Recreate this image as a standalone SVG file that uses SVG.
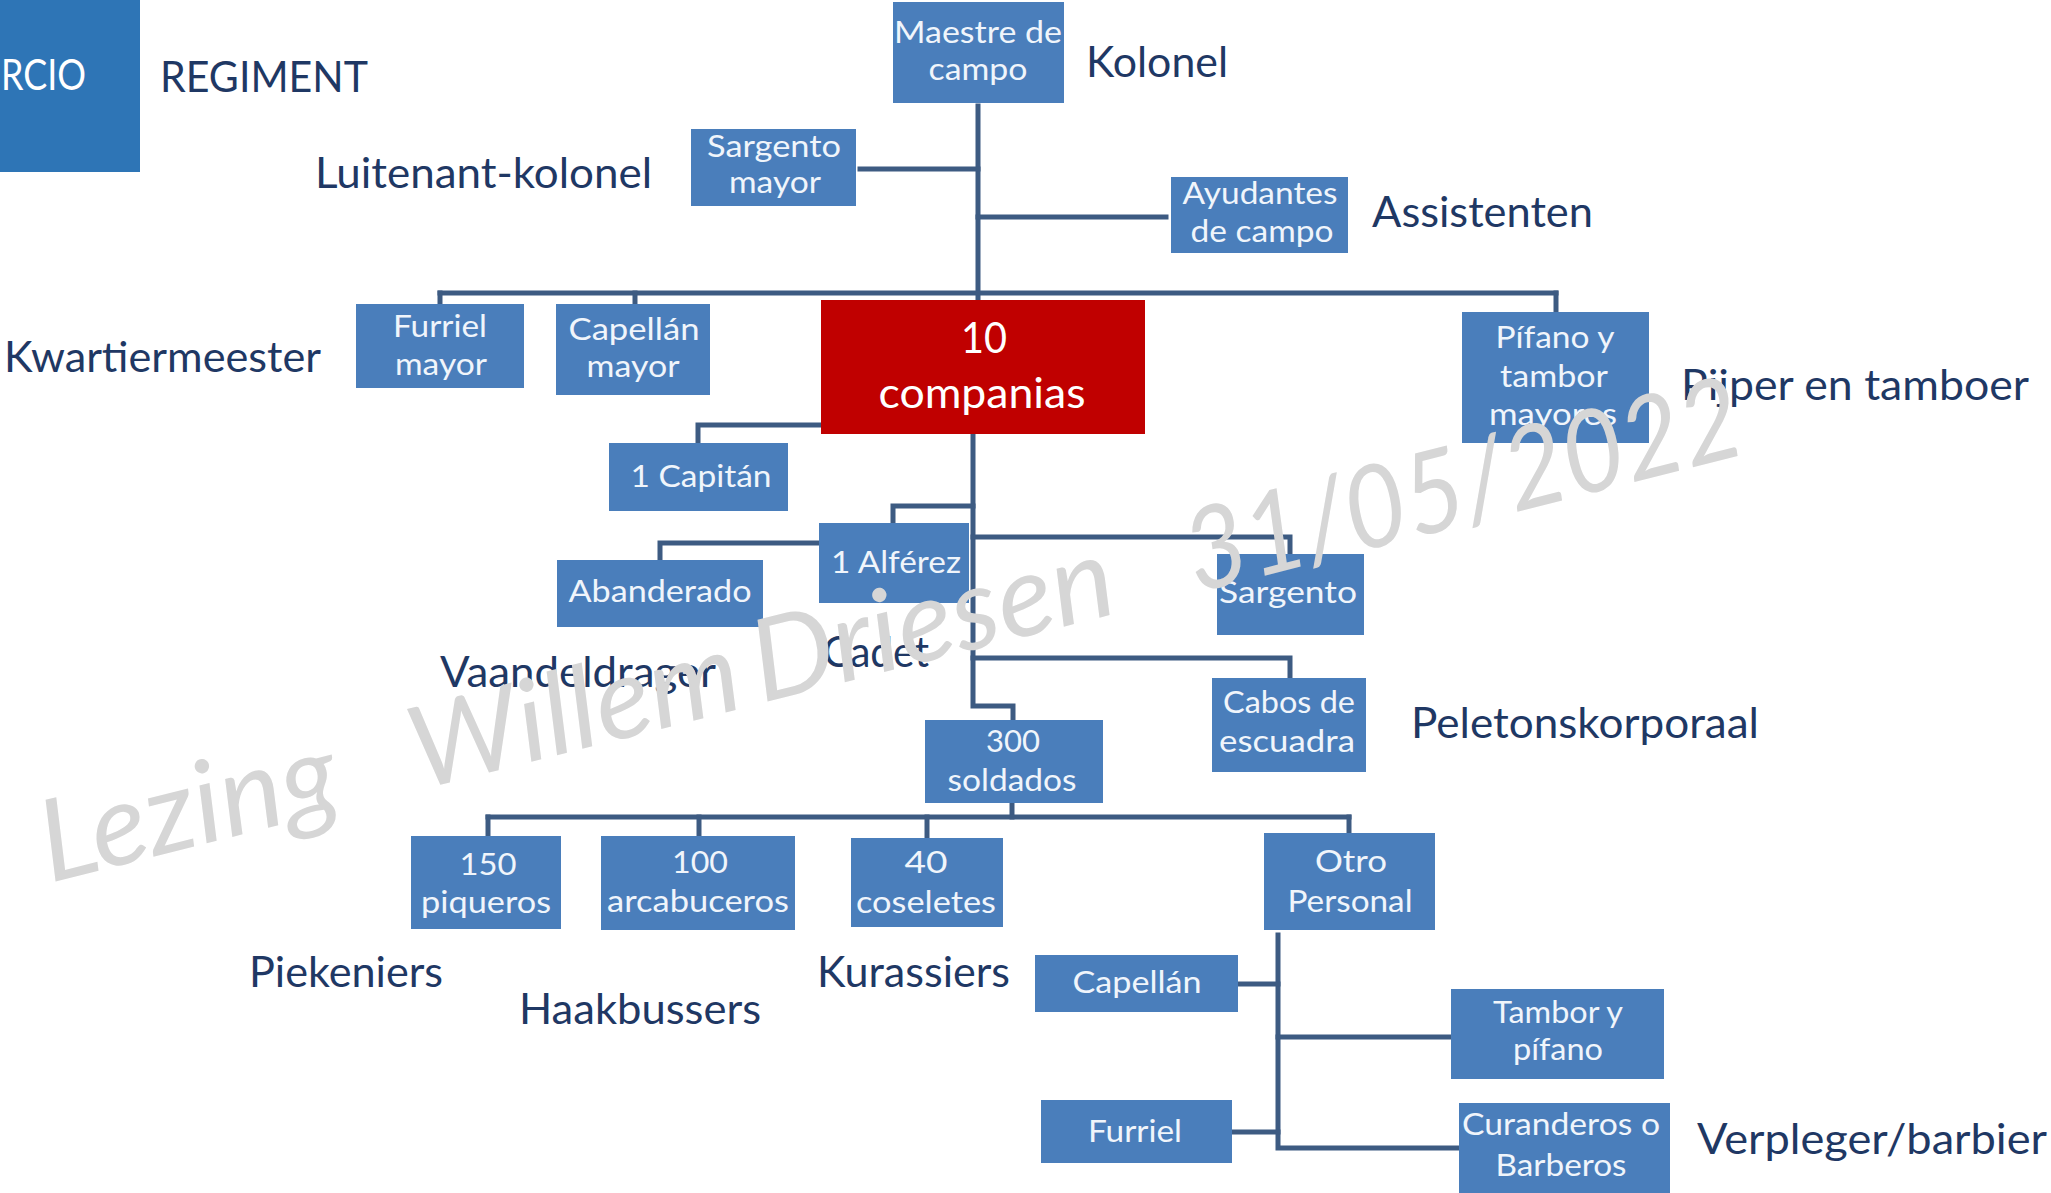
<svg xmlns="http://www.w3.org/2000/svg" width="2051" height="1193" viewBox="0 0 2051 1193">
<style>
.box{fill:#4a7ebb}
.bt{font-family:Lato,"Open Sans","Liberation Sans",sans-serif;font-size:30px;fill:#f0f5fb;text-anchor:middle}
.lbl{font-family:Lato,"Open Sans","Liberation Sans",sans-serif;font-size:42px;fill:#1f3864}
.conn{stroke:#3d5b82;stroke-width:5;fill:none;stroke-linecap:square}
.wm{font-family:Lato,"Open Sans","Liberation Sans",sans-serif;font-size:114px;font-style:italic;fill:#d6d6d6}
</style>
<rect width="2051" height="1193" fill="#ffffff"/>

<g id="tercio">
<rect x="0" y="0" width="140" height="172" fill="#2e75b6"/>
<text x="1" y="90" style="font-family:Lato,'Open Sans',sans-serif;font-size:42px;fill:#ffffff" textLength="85" lengthAdjust="spacingAndGlyphs">RCIO</text>
</g>

<g id="connectors">
<path class="conn" d="M978,106 V298"/>
<path class="conn" d="M860,169 H978"/>
<path class="conn" d="M978,217 H1166"/>
<path class="conn" d="M440,293 H1556"/>
<path class="conn" d="M440,293 V303"/>
<path class="conn" d="M635,293 V303"/>
<path class="conn" d="M1556,293 V311"/>
<path class="conn" d="M973,434 V706 H1013 V720"/>
<path class="conn" d="M820,425 H698 V443"/>
<path class="conn" d="M973,506 H893 V523"/>
<path class="conn" d="M819,543 H660 V560"/>
<path class="conn" d="M973,537 H1290 V554"/>
<path class="conn" d="M973,658 H1290 V678"/>
<path class="conn" d="M1012,803 V817"/>
<path class="conn" d="M488,817 H1349"/>
<path class="conn" d="M488,817 V836"/>
<path class="conn" d="M699,817 V836"/>
<path class="conn" d="M927,817 V838"/>
<path class="conn" d="M1349,817 V833"/>
<path class="conn" d="M1278,935 V1148 H1459"/>
<path class="conn" d="M1238,984 H1278"/>
<path class="conn" d="M1278,1037 H1451"/>
<path class="conn" d="M1232,1132 H1278"/>
</g>

<g id="maestre">
<rect class="box" x="893" y="2" width="171" height="101"/>
<text class="bt" x="978" y="43" textLength="168" lengthAdjust="spacingAndGlyphs">Maestre de</text>
<text class="bt" x="978" y="80" textLength="99" lengthAdjust="spacingAndGlyphs">campo</text>
</g>
<g id="sargento-mayor">
<rect class="box" x="691" y="129" width="165" height="77"/>
<text class="bt" x="774" y="157" textLength="134" lengthAdjust="spacingAndGlyphs">Sargento</text>
<text class="bt" x="775" y="193" textLength="92" lengthAdjust="spacingAndGlyphs">mayor</text>
</g>
<g id="ayudantes">
<rect class="box" x="1171" y="177" width="177" height="76"/>
<text class="bt" x="1260" y="204" textLength="155" lengthAdjust="spacingAndGlyphs">Ayudantes</text>
<text class="bt" x="1262" y="242" textLength="143" lengthAdjust="spacingAndGlyphs">de campo</text>
</g>
<g id="furriel-mayor">
<rect class="box" x="356" y="304" width="168" height="84"/>
<text class="bt" x="440" y="337" textLength="94" lengthAdjust="spacingAndGlyphs">Furriel</text>
<text class="bt" x="441" y="375" textLength="92" lengthAdjust="spacingAndGlyphs">mayor</text>
</g>
<g id="capellan-mayor">
<rect class="box" x="556" y="304" width="154" height="91"/>
<text class="bt" x="634" y="340" textLength="131" lengthAdjust="spacingAndGlyphs">Capellán</text>
<text class="bt" x="633" y="377" textLength="93" lengthAdjust="spacingAndGlyphs">mayor</text>
</g>
<g id="pifano-mayores">
<rect class="box" x="1462" y="312" width="187" height="131"/>
<text class="bt" x="1555" y="348" textLength="119" lengthAdjust="spacingAndGlyphs">Pífano y</text>
<text class="bt" x="1554" y="387" textLength="108" lengthAdjust="spacingAndGlyphs">tambor</text>
<text class="bt" x="1553" y="425" textLength="128" lengthAdjust="spacingAndGlyphs">mayores</text>
</g>
<g id="companias">
<rect x="821" y="300" width="324" height="134" fill="#c00000"/>
<text x="984" y="353" style="font-family:Lato,'Open Sans',sans-serif;font-size:42px;fill:#ffffff;text-anchor:middle" textLength="46" lengthAdjust="spacingAndGlyphs">10</text>
<text x="982" y="408" style="font-family:Lato,'Open Sans',sans-serif;font-size:42px;fill:#ffffff;text-anchor:middle" textLength="207" lengthAdjust="spacingAndGlyphs">companias</text>
</g>
<g id="capitan">
<rect class="box" x="609" y="443" width="179" height="68"/>
<text class="bt" x="701" y="487" textLength="141" lengthAdjust="spacingAndGlyphs">1 Capitán</text>
</g>
<g id="alferez">
<rect class="box" x="819" y="523" width="150" height="80"/>
<text class="bt" x="896" y="573" textLength="130" lengthAdjust="spacingAndGlyphs">1 Alférez</text>
</g>
<g id="abanderado">
<rect class="box" x="557" y="560" width="206" height="67"/>
<text class="bt" x="660" y="602" textLength="183" lengthAdjust="spacingAndGlyphs">Abanderado</text>
</g>
<g id="sargento">
<rect class="box" x="1217" y="554" width="147" height="81"/>
<text class="bt" x="1288" y="603" textLength="138" lengthAdjust="spacingAndGlyphs">Sargento</text>
</g>
<g id="cabos">
<rect class="box" x="1212" y="678" width="154" height="94"/>
<text class="bt" x="1289" y="713" textLength="132" lengthAdjust="spacingAndGlyphs">Cabos de</text>
<text class="bt" x="1287" y="752" textLength="136" lengthAdjust="spacingAndGlyphs">escuadra</text>
</g>
<g id="soldados">
<rect class="box" x="925" y="720" width="178" height="83"/>
<text class="bt" x="1013" y="752" textLength="54" lengthAdjust="spacingAndGlyphs">300</text>
<text class="bt" x="1012" y="791" textLength="129" lengthAdjust="spacingAndGlyphs">soldados</text>
</g>
<g id="piqueros">
<rect class="box" x="411" y="836" width="150" height="93"/>
<text class="bt" x="488" y="875" textLength="57" lengthAdjust="spacingAndGlyphs">150</text>
<text class="bt" x="486" y="913" textLength="130" lengthAdjust="spacingAndGlyphs">piqueros</text>
</g>
<g id="arcabuceros">
<rect class="box" x="601" y="836" width="194" height="94"/>
<text class="bt" x="700" y="873" textLength="56" lengthAdjust="spacingAndGlyphs">100</text>
<text class="bt" x="698" y="912" textLength="182" lengthAdjust="spacingAndGlyphs">arcabuceros</text>
</g>
<g id="coseletes">
<rect class="box" x="851" y="838" width="152" height="89"/>
<text class="bt" x="926" y="873" textLength="43" lengthAdjust="spacingAndGlyphs">40</text>
<text class="bt" x="926" y="913" textLength="140" lengthAdjust="spacingAndGlyphs">coseletes</text>
</g>
<g id="otro">
<rect class="box" x="1264" y="833" width="171" height="97"/>
<text class="bt" x="1351" y="872" textLength="72" lengthAdjust="spacingAndGlyphs">Otro</text>
<text class="bt" x="1350" y="912" textLength="125" lengthAdjust="spacingAndGlyphs">Personal</text>
</g>
<g id="capellan">
<rect class="box" x="1035" y="955" width="203" height="57"/>
<text class="bt" x="1137" y="993" textLength="129" lengthAdjust="spacingAndGlyphs">Capellán</text>
</g>
<g id="furriel">
<rect class="box" x="1041" y="1100" width="191" height="63"/>
<text class="bt" x="1135" y="1142" textLength="94" lengthAdjust="spacingAndGlyphs">Furriel</text>
</g>
<g id="tambor">
<rect class="box" x="1451" y="989" width="213" height="90"/>
<text class="bt" x="1558" y="1023" textLength="130" lengthAdjust="spacingAndGlyphs">Tambor y</text>
<text class="bt" x="1558" y="1060" textLength="90" lengthAdjust="spacingAndGlyphs">pífano</text>
</g>
<g id="curanderos">
<rect class="box" x="1459" y="1103" width="211" height="95"/>
<text class="bt" x="1561" y="1135" textLength="198" lengthAdjust="spacingAndGlyphs">Curanderos o</text>
<text class="bt" x="1561" y="1176" textLength="131" lengthAdjust="spacingAndGlyphs">Barberos</text>
</g>

<g id="labels">
<text class="lbl" x="160" y="92" textLength="208" lengthAdjust="spacingAndGlyphs">REGIMENT</text>
<text class="lbl" x="1086" y="77" textLength="142" lengthAdjust="spacingAndGlyphs">Kolonel</text>
<text class="lbl" x="315" y="188" textLength="337" lengthAdjust="spacingAndGlyphs">Luitenant-kolonel</text>
<text class="lbl" x="1372" y="227" textLength="221" lengthAdjust="spacingAndGlyphs">Assistenten</text>
<text class="lbl" x="4" y="372" textLength="317" lengthAdjust="spacingAndGlyphs">Kwartiermeester</text>
<text class="lbl" x="1681" y="400" textLength="348" lengthAdjust="spacingAndGlyphs">Pijper en tamboer</text>
<text class="lbl" x="440" y="687" textLength="276" lengthAdjust="spacingAndGlyphs">Vaandeldrager</text>
<text class="lbl" x="823" y="667" textLength="106" lengthAdjust="spacingAndGlyphs">Cadet</text>
<text class="lbl" x="1411" y="738" textLength="348" lengthAdjust="spacingAndGlyphs">Peletonskorporaal</text>
<text class="lbl" x="249" y="987" textLength="194" lengthAdjust="spacingAndGlyphs">Piekeniers</text>
<text class="lbl" x="519" y="1024" textLength="242" lengthAdjust="spacingAndGlyphs">Haakbussers</text>
<text class="lbl" x="817" y="987" textLength="193" lengthAdjust="spacingAndGlyphs">Kurassiers</text>
<text class="lbl" x="1697" y="1154" textLength="350" lengthAdjust="spacingAndGlyphs">Verpleger/barbier</text>
</g>

<g id="watermark">
<text class="wm" transform="translate(50,883) rotate(-14.2)" textLength="304" lengthAdjust="spacingAndGlyphs">Lezing</text>
<text class="wm" transform="translate(420,790) rotate(-14.2)" textLength="337" lengthAdjust="spacingAndGlyphs">Willem</text>
<text class="wm" transform="translate(762,703) rotate(-14.2)" textLength="370" lengthAdjust="spacingAndGlyphs">Driesen</text>
<text class="wm" transform="translate(1196,593) rotate(-14.2)" textLength="570" lengthAdjust="spacingAndGlyphs">31/05/2022</text>
</g>
</svg>
